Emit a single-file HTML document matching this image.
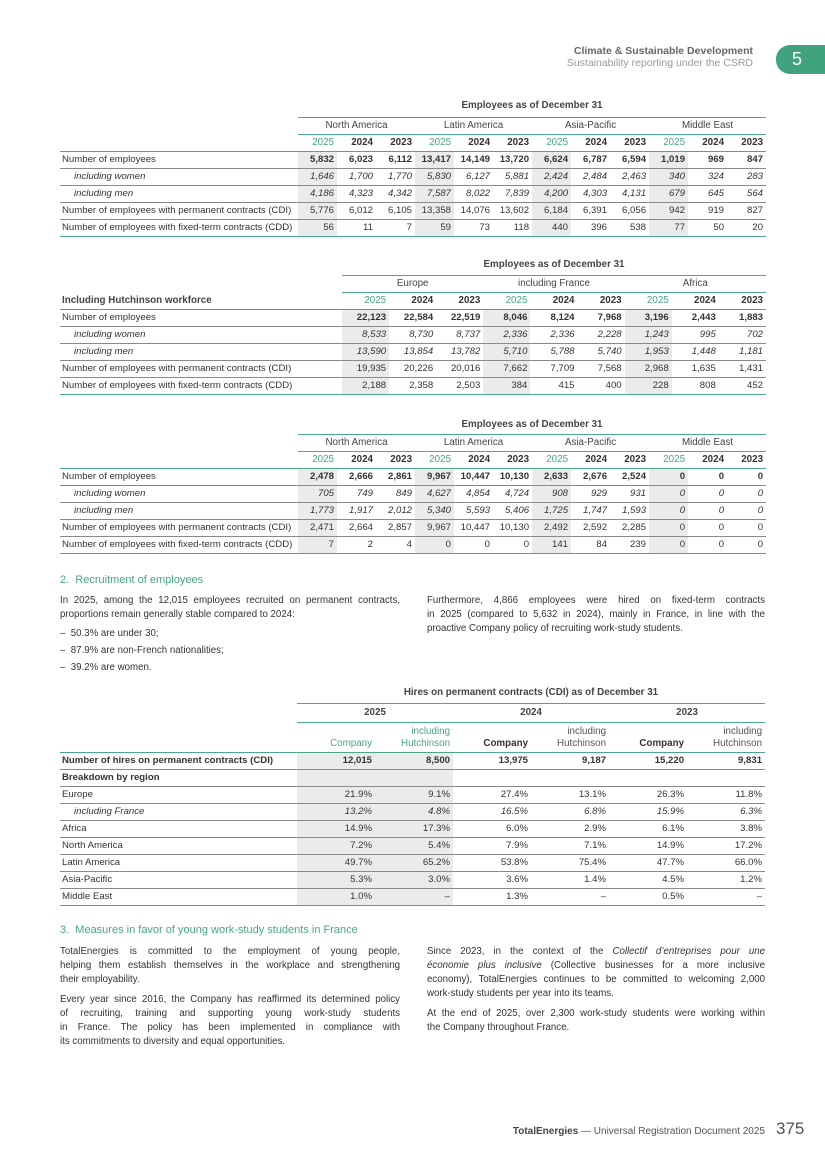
<!DOCTYPE html>
<html><head><meta charset="utf-8"><style>
*{margin:0;padding:0;box-sizing:border-box}
body{width:825px;height:1168px;position:relative;background:#fff;font-family:"Liberation Sans",sans-serif;color:#333;overflow:hidden}
.a{position:absolute}
table{border-collapse:collapse;table-layout:fixed;font-size:9.6px;position:absolute}
td{white-space:nowrap;padding:0 3px;text-align:right;border-bottom:1px solid #8a8a8a;height:17px;line-height:16px;overflow:visible}
td.l{text-align:left;padding-left:2px}
td.i{padding-left:14px}
tr.it td{font-style:italic}
tr.b td{font-weight:bold}
.s{background:#ebebeb}
.g{color:#45a883}
.hd td{border-bottom:1.5px solid #4aaa88;font-size:9.8px;text-align:center;color:#444}
.yr td{font-weight:bold;font-size:9.8px;color:#333}
.yr td.g{color:#45a883;font-weight:normal}
.nb{border-bottom:none!important}
.ttl{font-size:9.8px;font-weight:bold;color:#444;text-align:center}
.top{border-top:1.5px solid #4aaa88}
p{font-size:9.7px;line-height:14px;color:#333}
p span{display:block;white-space:nowrap;text-align:justify;text-align-last:justify}
p span.e{text-align-last:left}
h3{font-size:11px;font-weight:normal;color:#45a883;position:absolute}
</style></head><body>
<div class="a" style="right:72px;top:45px;text-align:right;font-size:10.5px;line-height:12px;color:#777"><b style="color:#666">Climate &amp; Sustainable Development</b><br><span style="color:#999">Sustainability reporting under the CSRD</span></div>
<div class="a" style="left:776px;top:45px;width:55px;height:29px;background:#3fa47e;border-radius:14px 0 0 14px;color:#fff;font-size:18px;line-height:29px;padding-left:16px">5</div>

<!-- Table 1 -->
<div class="a ttl" style="left:298px;top:100px;width:468px">Employees as of December 31</div>
<table style="left:60px;top:117px;width:706px">
<colgroup><col style="width:238px"><col span="12" style="width:39px"></colgroup>
<tr class="hd"><td class="nb"></td><td class="top" colspan="3">North America</td><td class="top" colspan="3">Latin America</td><td class="top" colspan="3">Asia-Pacific</td><td class="top" colspan="3">Middle East</td></tr>
<tr class="yr"><td class="l" style="border-bottom:1.5px solid #4aaa88"></td><td class="g" style="border-bottom:1.5px solid #4aaa88">2025</td><td style="border-bottom:1.5px solid #4aaa88">2024</td><td style="border-bottom:1.5px solid #4aaa88">2023</td><td class="g" style="border-bottom:1.5px solid #4aaa88">2025</td><td style="border-bottom:1.5px solid #4aaa88">2024</td><td style="border-bottom:1.5px solid #4aaa88">2023</td><td class="g" style="border-bottom:1.5px solid #4aaa88">2025</td><td style="border-bottom:1.5px solid #4aaa88">2024</td><td style="border-bottom:1.5px solid #4aaa88">2023</td><td class="g" style="border-bottom:1.5px solid #4aaa88">2025</td><td style="border-bottom:1.5px solid #4aaa88">2024</td><td style="border-bottom:1.5px solid #4aaa88">2023</td></tr>
<tr class="b"><td class="l" style="font-weight:normal">Number of employees</td><td class="s">5,832</td><td>6,023</td><td>6,112</td><td class="s">13,417</td><td>14,149</td><td>13,720</td><td class="s">6,624</td><td>6,787</td><td>6,594</td><td class="s">1,019</td><td>969</td><td>847</td></tr>
<tr class="it"><td class="l i">including women</td><td class="s">1,646</td><td>1,700</td><td>1,770</td><td class="s">5,830</td><td>6,127</td><td>5,881</td><td class="s">2,424</td><td>2,484</td><td>2,463</td><td class="s">340</td><td>324</td><td>283</td></tr>
<tr class="it"><td class="l i">including men</td><td class="s">4,186</td><td>4,323</td><td>4,342</td><td class="s">7,587</td><td>8,022</td><td>7,839</td><td class="s">4,200</td><td>4,303</td><td>4,131</td><td class="s">679</td><td>645</td><td>564</td></tr>
<tr><td class="l">Number of employees with permanent contracts (CDI)</td><td class="s">5,776</td><td>6,012</td><td>6,105</td><td class="s">13,358</td><td>14,076</td><td>13,602</td><td class="s">6,184</td><td>6,391</td><td>6,056</td><td class="s">942</td><td>919</td><td>827</td></tr>
<tr><td class="l" style="border-bottom:1.5px solid #4aaa88">Number of employees with fixed-term contracts (CDD)</td><td class="s" style="border-bottom:1.5px solid #4aaa88">56</td><td style="border-bottom:1.5px solid #4aaa88">11</td><td style="border-bottom:1.5px solid #4aaa88">7</td><td class="s" style="border-bottom:1.5px solid #4aaa88">59</td><td style="border-bottom:1.5px solid #4aaa88">73</td><td style="border-bottom:1.5px solid #4aaa88">118</td><td class="s" style="border-bottom:1.5px solid #4aaa88">440</td><td style="border-bottom:1.5px solid #4aaa88">396</td><td style="border-bottom:1.5px solid #4aaa88">538</td><td class="s" style="border-bottom:1.5px solid #4aaa88">77</td><td style="border-bottom:1.5px solid #4aaa88">50</td><td style="border-bottom:1.5px solid #4aaa88">20</td></tr>
</table>

<!-- Table 2 -->
<div class="a ttl" style="left:342px;top:259px;width:424px">Employees as of December 31</div>
<table style="left:60px;top:275px;width:706px">
<colgroup><col style="width:282px"><col span="9" style="width:47.1px"></colgroup>
<tr class="hd"><td class="nb"></td><td class="top" colspan="3">Europe</td><td class="top" colspan="3">including France</td><td class="top" colspan="3">Africa</td></tr>
<tr class="yr"><td class="l" style="border-bottom:1.5px solid #4aaa88;color:#444">Including Hutchinson workforce</td><td class="g" style="border-bottom:1.5px solid #4aaa88">2025</td><td style="border-bottom:1.5px solid #4aaa88">2024</td><td style="border-bottom:1.5px solid #4aaa88">2023</td><td class="g" style="border-bottom:1.5px solid #4aaa88">2025</td><td style="border-bottom:1.5px solid #4aaa88">2024</td><td style="border-bottom:1.5px solid #4aaa88">2023</td><td class="g" style="border-bottom:1.5px solid #4aaa88">2025</td><td style="border-bottom:1.5px solid #4aaa88">2024</td><td style="border-bottom:1.5px solid #4aaa88">2023</td></tr>
<tr class="b"><td class="l" style="font-weight:normal">Number of employees</td><td class="s">22,123</td><td>22,584</td><td>22,519</td><td class="s">8,046</td><td>8,124</td><td>7,968</td><td class="s">3,196</td><td>2,443</td><td>1,883</td></tr>
<tr class="it"><td class="l i">including women</td><td class="s">8,533</td><td>8,730</td><td>8,737</td><td class="s">2,336</td><td>2,336</td><td>2,228</td><td class="s">1,243</td><td>995</td><td>702</td></tr>
<tr class="it"><td class="l i">including men</td><td class="s">13,590</td><td>13,854</td><td>13,782</td><td class="s">5,710</td><td>5,788</td><td>5,740</td><td class="s">1,953</td><td>1,448</td><td>1,181</td></tr>
<tr><td class="l">Number of employees with permanent contracts (CDI)</td><td class="s">19,935</td><td>20,226</td><td>20,016</td><td class="s">7,662</td><td>7,709</td><td>7,568</td><td class="s">2,968</td><td>1,635</td><td>1,431</td></tr>
<tr><td class="l" style="border-bottom:1.5px solid #4aaa88">Number of employees with fixed-term contracts (CDD)</td><td class="s" style="border-bottom:1.5px solid #4aaa88">2,188</td><td style="border-bottom:1.5px solid #4aaa88">2,358</td><td style="border-bottom:1.5px solid #4aaa88">2,503</td><td class="s" style="border-bottom:1.5px solid #4aaa88">384</td><td style="border-bottom:1.5px solid #4aaa88">415</td><td style="border-bottom:1.5px solid #4aaa88">400</td><td class="s" style="border-bottom:1.5px solid #4aaa88">228</td><td style="border-bottom:1.5px solid #4aaa88">808</td><td style="border-bottom:1.5px solid #4aaa88">452</td></tr>
</table>

<!-- Table 3 -->
<div class="a ttl" style="left:298px;top:419px;width:468px">Employees as of December 31</div>
<table style="left:60px;top:434px;width:706px">
<colgroup><col style="width:238px"><col span="12" style="width:39px"></colgroup>
<tr class="hd"><td class="nb"></td><td class="top" colspan="3">North America</td><td class="top" colspan="3">Latin America</td><td class="top" colspan="3">Asia-Pacific</td><td class="top" colspan="3">Middle East</td></tr>
<tr class="yr"><td class="l" style="border-bottom:1.5px solid #4aaa88"></td><td class="g" style="border-bottom:1.5px solid #4aaa88">2025</td><td style="border-bottom:1.5px solid #4aaa88">2024</td><td style="border-bottom:1.5px solid #4aaa88">2023</td><td class="g" style="border-bottom:1.5px solid #4aaa88">2025</td><td style="border-bottom:1.5px solid #4aaa88">2024</td><td style="border-bottom:1.5px solid #4aaa88">2023</td><td class="g" style="border-bottom:1.5px solid #4aaa88">2025</td><td style="border-bottom:1.5px solid #4aaa88">2024</td><td style="border-bottom:1.5px solid #4aaa88">2023</td><td class="g" style="border-bottom:1.5px solid #4aaa88">2025</td><td style="border-bottom:1.5px solid #4aaa88">2024</td><td style="border-bottom:1.5px solid #4aaa88">2023</td></tr>
<tr class="b"><td class="l" style="font-weight:normal">Number of employees</td><td class="s">2,478</td><td>2,666</td><td>2,861</td><td class="s">9,967</td><td>10,447</td><td>10,130</td><td class="s">2,633</td><td>2,676</td><td>2,524</td><td class="s">0</td><td>0</td><td>0</td></tr>
<tr class="it"><td class="l i">including women</td><td class="s">705</td><td>749</td><td>849</td><td class="s">4,627</td><td>4,854</td><td>4,724</td><td class="s">908</td><td>929</td><td>931</td><td class="s">0</td><td>0</td><td>0</td></tr>
<tr class="it"><td class="l i">including men</td><td class="s">1,773</td><td>1,917</td><td>2,012</td><td class="s">5,340</td><td>5,593</td><td>5,406</td><td class="s">1,725</td><td>1,747</td><td>1,593</td><td class="s">0</td><td>0</td><td>0</td></tr>
<tr><td class="l">Number of employees with permanent contracts (CDI)</td><td class="s">2,471</td><td>2,664</td><td>2,857</td><td class="s">9,967</td><td>10,447</td><td>10,130</td><td class="s">2,492</td><td>2,592</td><td>2,285</td><td class="s">0</td><td>0</td><td>0</td></tr>
<tr><td class="l" style="border-bottom:1.5px solid #4aaa88">Number of employees with fixed-term contracts (CDD)</td><td class="s" style="border-bottom:1.5px solid #4aaa88">7</td><td style="border-bottom:1.5px solid #4aaa88">2</td><td style="border-bottom:1.5px solid #4aaa88">4</td><td class="s" style="border-bottom:1.5px solid #4aaa88">0</td><td style="border-bottom:1.5px solid #4aaa88">0</td><td style="border-bottom:1.5px solid #4aaa88">0</td><td class="s" style="border-bottom:1.5px solid #4aaa88">141</td><td style="border-bottom:1.5px solid #4aaa88">84</td><td style="border-bottom:1.5px solid #4aaa88">239</td><td class="s" style="border-bottom:1.5px solid #4aaa88">0</td><td style="border-bottom:1.5px solid #4aaa88">0</td><td style="border-bottom:1.5px solid #4aaa88">0</td></tr>
</table>

<h3 style="left:60px;top:574px">2.&nbsp; Recruitment of employees</h3>
<div class="a" style="left:60px;top:594px;width:340px">
<p><span>In 2025, among the 12,015 employees recruited on permanent contracts,</span><span class="e">proportions remain generally stable compared to 2024:</span></p>
<p style="margin-top:3px;line-height:17px;text-align:left">–&nbsp; 50.3% are under 30;<br>–&nbsp; 87.9% are non-French nationalities;<br>–&nbsp; 39.2% are women.</p>
</div>
<div class="a" style="left:427px;top:594px;width:338px">
<p><span>Furthermore, 4,866 employees were hired on fixed-term contracts</span><span>in 2025 (compared to 5,632 in 2024), mainly in France, in line with the</span><span class="e">proactive Company policy of recruiting work-study students.</span></p>
</div>

<!-- Table 4 -->
<div class="a ttl" style="left:297px;top:687px;width:468px">Hires on permanent contracts (CDI) as of December 31</div>
<table style="left:60px;top:703px;width:705px">
<colgroup><col style="width:237px"><col span="6" style="width:78px"></colgroup>
<tr class="hd" style="font-weight:bold"><td class="nb"></td><td class="top g" colspan="2" style="height:19px">2025</td><td class="top" colspan="2" style="font-weight:bold">2024</td><td class="top" colspan="2" style="font-weight:bold">2023</td></tr>
<tr style="font-size:9.8px"><td style="border-bottom:1.5px solid #4aaa88;height:30px"></td><td class="g" style="border-bottom:1.5px solid #4aaa88;line-height:12px;vertical-align:bottom;padding-bottom:2px">Company</td><td class="g" style="border-bottom:1.5px solid #4aaa88;line-height:12px;vertical-align:bottom;padding-bottom:2px">including<br>Hutchinson</td><td style="border-bottom:1.5px solid #4aaa88;vertical-align:bottom;padding-bottom:2px;line-height:12px;font-weight:bold">Company</td><td style="border-bottom:1.5px solid #4aaa88;line-height:12px;vertical-align:bottom;padding-bottom:2px;color:#555">including<br>Hutchinson</td><td style="border-bottom:1.5px solid #4aaa88;vertical-align:bottom;padding-bottom:2px;line-height:12px;font-weight:bold">Company</td><td style="border-bottom:1.5px solid #4aaa88;line-height:12px;vertical-align:bottom;padding-bottom:2px;color:#555">including<br>Hutchinson</td></tr>
<tr class="b"><td class="l">Number of hires on permanent contracts (CDI)</td><td class="s">12,015</td><td class="s">8,500</td><td>13,975</td><td>9,187</td><td>15,220</td><td>9,831</td></tr>
<tr class="b"><td class="l">Breakdown by region</td><td class="s"></td><td class="s"></td><td></td><td></td><td></td><td></td></tr>
<tr><td class="l">Europe</td><td class="s">21.9%</td><td class="s">9.1%</td><td>27.4%</td><td>13.1%</td><td>26.3%</td><td>11.8%</td></tr>
<tr class="it"><td class="l i">including France</td><td class="s">13.2%</td><td class="s">4.8%</td><td>16.5%</td><td>6.8%</td><td>15.9%</td><td>6.3%</td></tr>
<tr><td class="l">Africa</td><td class="s">14.9%</td><td class="s">17.3%</td><td>6.0%</td><td>2.9%</td><td>6.1%</td><td>3.8%</td></tr>
<tr><td class="l">North America</td><td class="s">7.2%</td><td class="s">5.4%</td><td>7.9%</td><td>7.1%</td><td>14.9%</td><td>17.2%</td></tr>
<tr><td class="l">Latin America</td><td class="s">49.7%</td><td class="s">65.2%</td><td>53.8%</td><td>75.4%</td><td>47.7%</td><td>66.0%</td></tr>
<tr><td class="l">Asia-Pacific</td><td class="s">5.3%</td><td class="s">3.0%</td><td>3.6%</td><td>1.4%</td><td>4.5%</td><td>1.2%</td></tr>
<tr><td class="l" style="border-bottom:1.5px solid #4aaa88">Middle East</td><td class="s" style="border-bottom:1.5px solid #4aaa88">1.0%</td><td class="s" style="border-bottom:1.5px solid #4aaa88">–</td><td style="border-bottom:1.5px solid #4aaa88">1.3%</td><td style="border-bottom:1.5px solid #4aaa88">–</td><td style="border-bottom:1.5px solid #4aaa88">0.5%</td><td style="border-bottom:1.5px solid #4aaa88">–</td></tr>
</table>

<h3 style="left:60px;top:924px">3.&nbsp; Measures in favor of young work-study students in France</h3>
<div class="a" style="left:60px;top:945px;width:340px">
<p><span>TotalEnergies is committed to the employment of young people,</span><span>helping them establish themselves in the workplace and strengthening</span><span class="e">their employability.</span></p>
<p style="margin-top:6px"><span>Every year since 2016, the Company has reaffirmed its determined policy</span><span>of recruiting, training and supporting young work-study students</span><span>in France. The policy has been implemented in compliance with</span><span class="e">its commitments to diversity and equal opportunities.</span></p>
</div>
<div class="a" style="left:427px;top:945px;width:338px">
<p><span>Since 2023, in the context of the <i>Collectif d’entreprises pour une</i></span><span><i>économie plus inclusive</i> (Collective businesses for a more inclusive</span><span>economy), TotalEnergies continues to be committed to welcoming 2,000</span><span class="e">work-study students per year into its teams.</span></p>
<p style="margin-top:6px"><span>At the end of 2025, over 2,300 work-study students were working within</span><span class="e">the Company throughout France.</span></p>
</div>

<div class="a" style="right:60px;top:1126px;font-size:10px;color:#555;white-space:nowrap"><b style="color:#444">TotalEnergies</b> — Universal Registration Document 2025</div>
<div class="a" style="left:776px;top:1119px;font-size:17px;color:#555">375</div>
</body></html>
